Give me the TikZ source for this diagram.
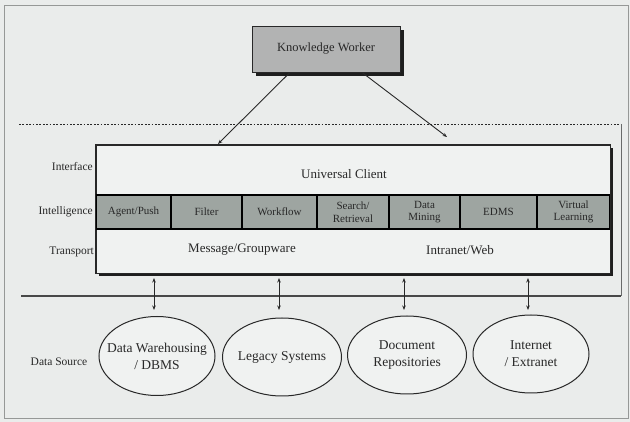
\documentclass[tikz,border=0pt]{standalone}
\usepackage{fontspec}
\setmainfont{Liberation Serif}
\usetikzlibrary{arrows.meta,shapes.geometric}
\definecolor{bgc}{RGB}{234,236,235}
\definecolor{framec}{RGB}{150,152,151}
\definecolor{boxc}{RGB}{240,242,241}
\definecolor{cellc}{RGB}{158,165,161}
\definecolor{kwc}{RGB}{178,179,179}
\definecolor{shadowc}{RGB}{30,30,30}
\definecolor{inkc}{RGB}{40,40,40}
\tikzset{
  lbl/.style={anchor=east, inner sep=0pt, text=inkc, font=\fontsize{11.5}{13}\selectfont},
  cellbox/.style={draw=black, line width=1.1pt, fill=cellc, minimum height=34pt, inner sep=0pt, align=center, text=inkc, font=\fontsize{11}{12.5}\selectfont},
  maintext/.style={inner sep=0pt, text=inkc, font=\fontsize{13}{15}\selectfont},
  src/.style={ellipse, draw=inkc, line width=1pt, fill=boxc, minimum width=117pt, minimum height=79pt, inner sep=0pt},
  srctext/.style={inner sep=0pt, align=center, text=inkc, font=\fontsize{13.5}{17}\selectfont},
  tip/.style={-{Stealth[length=4.5pt,width=3.5pt]}, line width=0.9pt, draw=inkc},
  dtip/.style={{Stealth[length=4.5pt,width=3.5pt]}-{Stealth[length=4.5pt,width=3.5pt]}, line width=0.9pt, draw=inkc}
}
\begin{document}
\begin{tikzpicture}[x=1pt,y=-1pt]
\useasboundingbox (0,0) rectangle (630,422);
\fill[bgc] (0,0) rectangle (630,422);
\draw[framec, line width=1pt] (4,6) rectangle (628,419);

% tier region
\draw[inkc, line width=0.9pt, dash pattern=on 1.8pt off 1.6pt] (19,124) -- (621,124);
\draw[framec!70!black, line width=1pt] (621,124) -- (621,296);
\draw[inkc!85!white, line width=1.8pt] (21,296) -- (621,296);

% knowledge worker
\fill[shadowc] (256,30) rectangle (404,76);
\node[draw=inkc, line width=0.8pt, fill=kwc, minimum width=148pt, minimum height=46pt, inner sep=0pt, text=inkc, font=\fontsize{12.5}{14}\selectfont] (kw) at (326,49) {Knowledge Worker};

% main box
\fill[shadowc] (99,148) rectangle (613,276);
\node[draw=inkc, line width=0.8pt, fill=boxc, minimum width=514pt, minimum height=128pt, inner sep=0pt] (mainbox) at (353,209) {};

\node[cellbox, minimum width=75pt] (c1) at (133.5,212) {Agent/Push};
\node[cellbox, minimum width=71pt] (c2) at (206.5,212) {Filter};
\node[cellbox, minimum width=75pt] (c3) at (279.5,212) {Workflow};
\node[cellbox, minimum width=72pt] (c4) at (353,212) {Search/\\Retrieval};
\node[cellbox, minimum width=71pt] (c5) at (424.5,212) {Data\\Mining};
\node[cellbox, minimum width=77pt] (c6) at (498.5,212) {EDMS};
\node[cellbox, minimum width=73pt] (c7) at (573.5,212) {Virtual\\Learning};
\draw[inkc, line width=0.8pt] (mainbox.north west) rectangle (mainbox.south east);

\node[maintext] (uc) at (344,174) {Universal Client};
\node[maintext] (mg) at (242,250) {Message/Groupware};
\node[maintext] (iw) at (460,250) {Intranet/Web};

% layer labels
\node[lbl] (l1) at (93,167) {Interface};
\node[lbl] (l2) at (93,212) {Intelligence};
\node[lbl] (l3) at (94,252) {Transport};
\node[lbl, anchor=center] (l4) at (59,362) {Data Source};

% arrows from knowledge worker
\coordinate (a1) at (218,144);
\coordinate (a2) at (447,137);
\draw[tip] ([xshift=-36pt]kw.south) -- (a1);
\draw[tip] ([xshift=36pt]kw.south) -- (a2);

% data sources
\node[src, minimum width=116pt] (e1) at (157,356) {};
\node[src, minimum width=119pt, minimum height=78pt] (e2) at (282,357) {};
\node[src, minimum width=119pt, minimum height=78pt] (e3) at (407,355) {};
\node[src, minimum width=116pt, minimum height=78pt] (e4) at (531,354) {};
\node[srctext] (t1) at (e1) {Data Warehousing\\/ DBMS};
\node[srctext] (t2) at (e2) {Legacy Systems};
\node[srctext] (t3) at (e3) {Document\\Repositories};
\node[srctext] (t4) at (e4) {Internet\\/ Extranet};

\foreach \e/\x in {e1/154,e2/279,e3/404,e4/528}{
  \coordinate (top\e) at (\x,278);
  \draw[dtip] (top\e) -- (\x,310);
}
\end{tikzpicture}
\end{document}
